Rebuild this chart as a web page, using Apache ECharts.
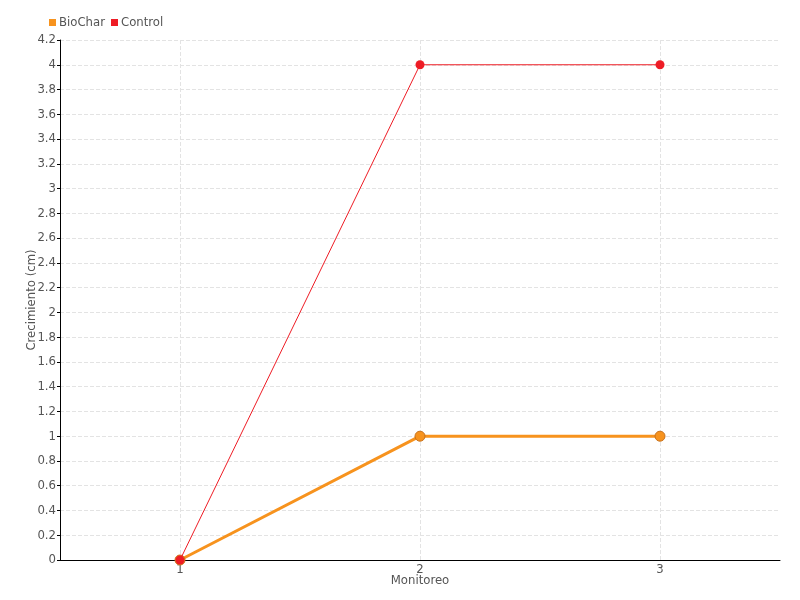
<!DOCTYPE html>
<html><head><meta charset="utf-8">
<script src="https://cdn.jsdelivr.net/npm/echarts@6/dist/echarts.min.js"></script>
<style>html,body{margin:0;padding:0;background:#fff}#c{width:800px;height:600px}</style>
</head><body><div id="c"></div>
<script>
const categories = ['1', '2', '3'];
const biochar = [0, 1, 1];
const control = [0, 4, 4];
const yTicks = { min: 0, max: 4.2, interval: 0.2 };

const FONT = '"DejaVu Sans Condensed", "Liberation Sans Narrow", "Roboto Condensed", sans-serif';
const chart = echarts.init(document.getElementById('c'));
chart.setOption({
  animation: false,
  textStyle: { fontFamily: FONT },
  legend: {
    left: 44, top: 11, itemWidth: 7, itemHeight: 7, itemGap: 6,
    icon: 'rect',
    itemStyle: { borderWidth: 0 },
    textStyle: { fontFamily: FONT, fontSize: 13, color: '#555', padding: [0, 0, 0, -2] },
    data: ['BioChar', 'Control']
  },
  grid: { left: 60, right: 20, top: 40, bottom: 40, containLabel: false },
  xAxis: {
    type: 'category', data: categories, boundaryGap: true,
    name: 'Monitoreo', nameLocation: 'middle', nameGap: 14, nameMoveOverlap: false,
    nameTextStyle: { fontFamily: FONT, fontSize: 13, color: '#555' },
    axisLine: { lineStyle: { color: '#000', width: 1 } },
    axisTick: { alignWithLabel: true, length: 4, lineStyle: { color: '#333' } },
    axisLabel: { fontFamily: FONT, fontSize: 13, color: '#555', margin: 3 },
    splitLine: { show: true, alignWithLabel: true, lineStyle: { type: 'dashed', color: '#e3e3e3' } }
  },
  yAxis: {
    type: 'value', min: yTicks.min, max: yTicks.max, interval: yTicks.interval,
    name: 'Crecimiento (cm)', nameLocation: 'middle', nameGap: 22, nameMoveOverlap: false,
    nameTextStyle: { fontFamily: FONT, fontSize: 13, color: '#555' },
    axisLine: { show: true, lineStyle: { color: '#000', width: 1 } },
    axisTick: { show: true, length: 3, lineStyle: { color: '#000' } },
    axisLabel: { fontFamily: FONT, fontSize: 13, color: '#555', margin: 4,
      formatter: v => String(Math.round(v * 10) / 10) },
    splitLine: { show: true, lineStyle: { type: 'dashed', color: '#e3e3e3' } }
  },
  series: [
    {
      name: 'BioChar', type: 'line', data: biochar,
      symbol: 'circle', symbolSize: 10, z: 2,
      lineStyle: { color: '#f7931e', width: 3 },
      itemStyle: { color: '#f7931e', borderColor: '#c8701a', borderWidth: 1 }
    },
    {
      name: 'Control', type: 'line', data: control,
      symbol: 'circle', symbolSize: 9, z: 3,
      lineStyle: { color: '#ee1c25', width: 1 },
      itemStyle: { color: '#ee1c25', borderColor: '#ee1c25', borderWidth: 0 }
    }
  ]
});
</script></body></html>
